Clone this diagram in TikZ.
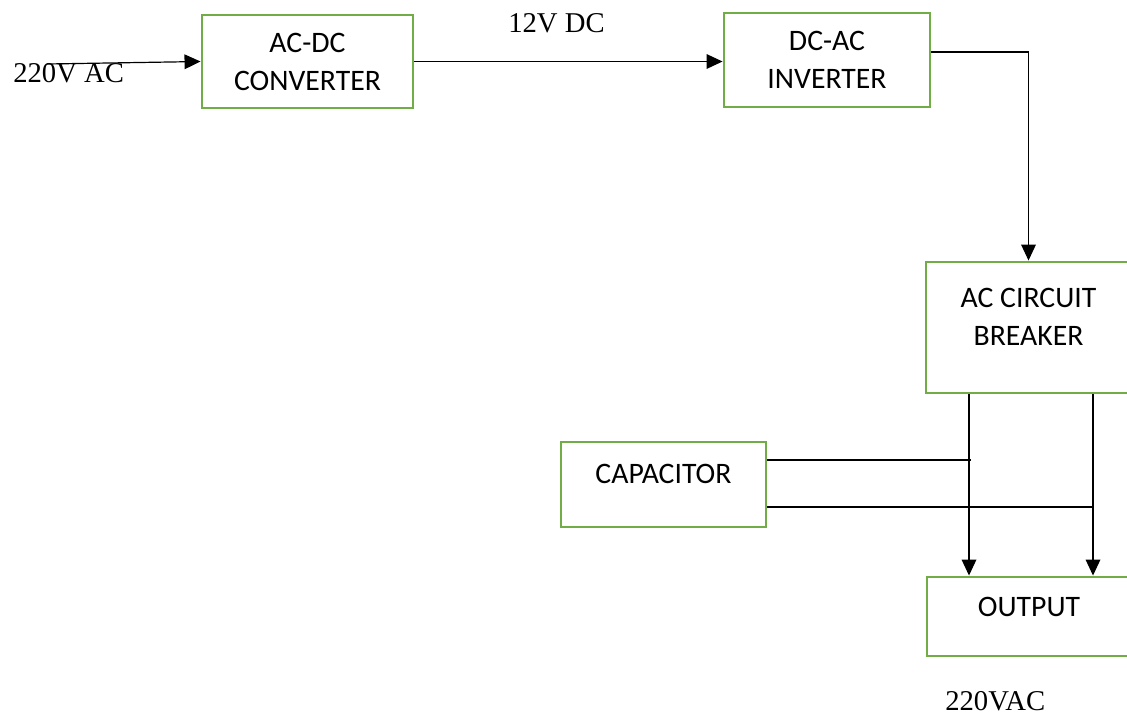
\documentclass[tikz,border=0pt]{standalone}
\usepackage{fontspec}
\setmainfont{Liberation Serif}
\newfontfamily\boxfont{Carlito}
\usepackage{xcolor}
\usepackage{tikz}
\usetikzlibrary{positioning,arrows.meta}
\definecolor{ink}{HTML}{000000}
\definecolor{leaf}{HTML}{70AD47}

\begin{document}
\begin{tikzpicture}[x=0.75pt,y=-0.75pt,
    blk/.style={draw=leaf,line width=2.2pt,inner sep=0pt,align=center,
      font=\boxfont\fontsize{22.3}{28.5}\selectfont},
    lbl/.style={inner sep=0pt,anchor=base west,font=\fontsize{21.5}{24}\selectfont},
    arr/.style={draw=ink,line width=0.9pt,-{Triangle[length=12pt,width=11pt]}},
    wire/.style={draw=ink,line width=0.9pt}]
  \useasboundingbox (0,0) rectangle (1127,715);
  \clip (0,0) rectangle (1127,715);
  % blocks (px coordinates of the sheet)
  \node[blk,minimum width=158.25pt,minimum height=69.75pt] (acdc) at (307.5,61.5) {AC-DC\\CONVERTER};
  \node[blk,minimum width=154.5pt,minimum height=70.5pt] (dcac) at (827,60) {DC-AC\\INVERTER};
  \node[blk,minimum width=153.75pt,minimum height=98.25pt,text depth=16.5pt] (accb) at (1028.5,327.5) {AC CIRCUIT\\BREAKER};
  \node[blk,minimum width=153.75pt,minimum height=63.75pt,text depth=16.5pt] (cap) at (663.5,484.5) {CAPACITOR};
  \node[blk,minimum width=153pt,minimum height=59.25pt,text depth=14pt] (out) at (1029,616.5) {OUTPUT};
  % labels
  \node[lbl] (inlbl) at (13,82) {220V AC};
  \node[lbl] (dclbl) at (508,32) {12V DC};
  \node[lbl] (outlbl) at (945,710) {220VAC};
  % connectors
  \coordinate (acin) at (47,64);
  \coordinate (tapl) at (969,0);
  \coordinate (tapr) at (1093,0);
  \path ([yshift=18.4pt]cap.east) coordinate (capa)
        ([yshift=-16.9pt]cap.east) coordinate (capb)
        ([yshift=6pt]dcac.east) coordinate (dcout);
  \draw[arr] (acin) -- (acdc.west);
  \draw[arr] (acdc.east) -- (acdc.east -| dcac.west);
  \draw[arr] (dcout) -| (accb.north);
  \draw[arr] (accb.south -| tapl) -- (out.north -| tapl);
  \draw[arr] (accb.south -| tapr) -- (out.north -| tapr);
  \draw[wire] (capa) -- ([xshift=1.5pt]capa -| tapl);
  \draw[wire] (capb) -- ([xshift=0.75pt]capb -| tapr);
\end{tikzpicture}
\end{document}
